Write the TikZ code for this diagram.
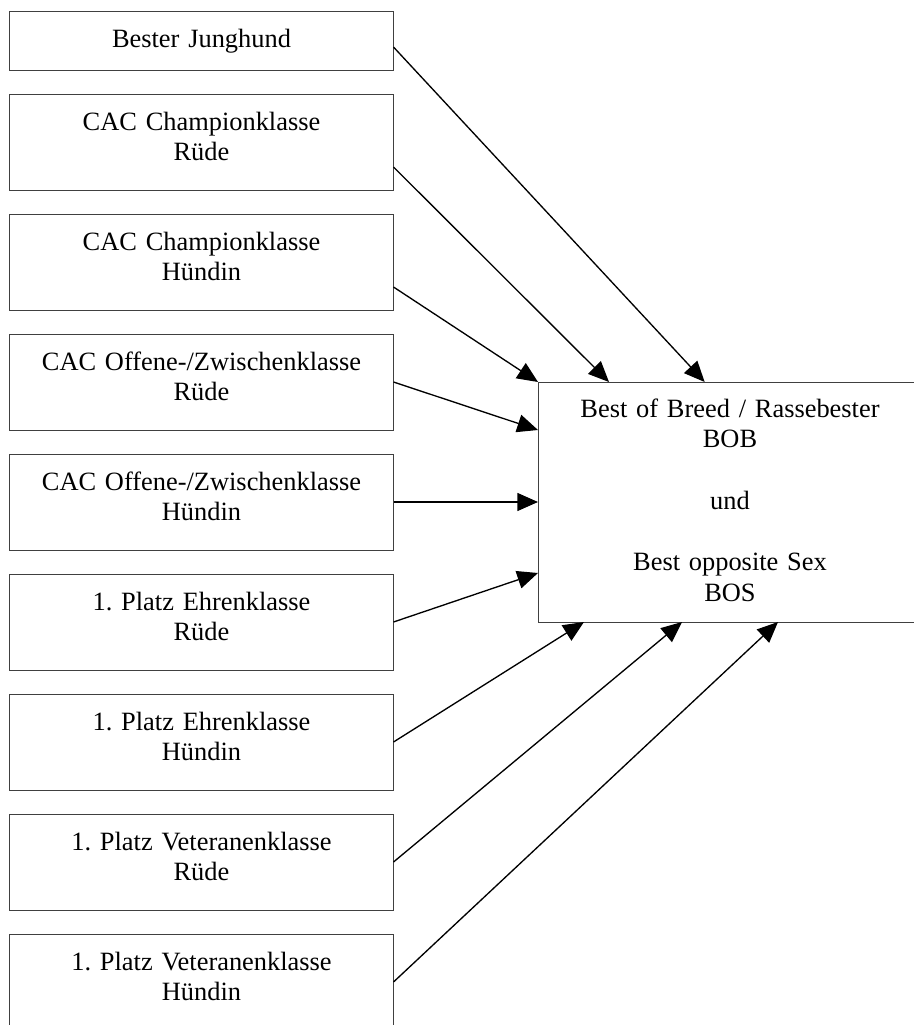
\documentclass[tikz,border=0pt]{standalone}
\usepackage{fontspec}
\setmainfont{Liberation Serif}
\usetikzlibrary{arrows.meta, positioning}
\tikzstyle{klasse}=[rectangle, draw=black!75, line width=0.75pt, inner sep=0pt, outer sep=0pt, text width=288pt, align=center, text height=27pt, text depth=45pt]
\tikzstyle{sieger}=[klasse, text height=26.25pt, text depth=153.75pt]
\frenchspacing

\begin{document}
\begin{tikzpicture}[->, >={Triangle[length=15.5pt, width=13.5pt]}, line width=1pt, x=0.75pt, y=-0.75pt, node distance=18pt, font=\fontsize{19.8}{23}\selectfont]
    \useasboundingbox (0,0) rectangle (914,1025);
    \clip (0,0) rectangle (914,1025);

    \node[klasse, anchor=north west, text depth=17.25pt] (b1) at (9.5,11) {Bester Junghund};
    \node[klasse] (b2) [below=of b1] {CAC Championklasse\\Rüde};
    \node[klasse] (b3) [below=of b2] {CAC Championklasse\\Hündin};
    \node[klasse] (b4) [below=of b3] {CAC Offene-/Zwischenklasse\\Rüde};
    \node[klasse] (b5) [below=of b4] {CAC Offene-/Zwischenklasse\\Hündin};
    \node[klasse] (b6) [below=of b5] {1. Platz Ehrenklasse\\Rüde};
    \node[klasse] (b7) [below=of b6] {1. Platz Ehrenklasse\\Hündin};
    \node[klasse] (b8) [below=of b7] {1. Platz Veteranenklasse\\Rüde};
    \node[klasse] (b9) [below=of b8] {1. Platz Veteranenklasse\\Hündin};
    \node[sieger, anchor=north west] (bob) at (538,382) {Best of Breed / Rassebester\\BOB\\[23pt]und\\[23pt]Best opposite Sex\\BOS};

    \path
      ([yshift=-4.9pt]b1.east) edge ([xshift=125pt]bob.north west)
      ([yshift=-18.75pt]b2.east) edge ([xshift=53.25pt]bob.north west)
      ([yshift=-18.75pt]b3.east) edge (bob.north west)
      (b4.east) edge ([yshift=54pt]bob.west)
      (b5.east) edge (bob.west)
      (b6.east) edge ([yshift=-53.25pt]bob.west)
      (b7.east) edge ([xshift=34.5pt]bob.south west)
      (b8.east) edge ([xshift=108pt]bob.south west)
      (b9.east) edge ([xshift=180pt]bob.south west);
\end{tikzpicture}
\end{document}
